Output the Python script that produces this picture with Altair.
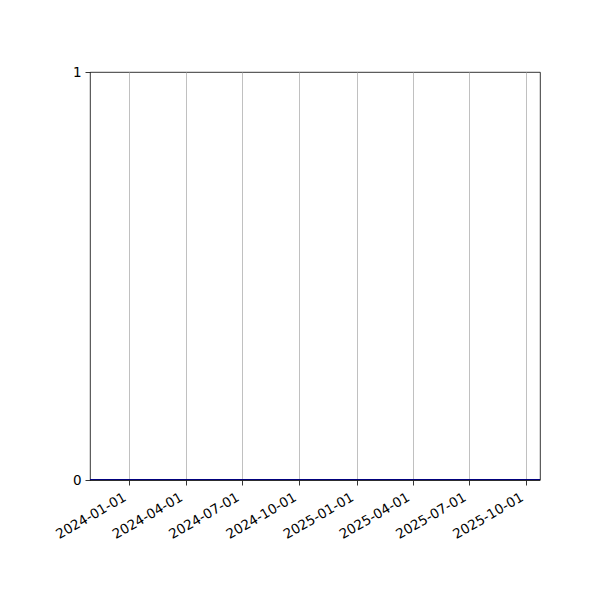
import altair as alt
import pandas as pd

# data
dates = ["2023-10-30", "2025-10-23"]
values = [0, 0]
tick_dates = ["2024-01-01", "2024-04-01", "2024-07-01", "2024-10-01",
              "2025-01-01", "2025-04-01", "2025-07-01", "2025-10-01"]
x_domain = ["2023-10-30", "2025-10-23"]
y_ticks = [0, 1]

df = pd.DataFrame({"date": pd.to_datetime(dates), "value": values})

FONT = "DejaVu Sans"

x_enc = alt.X(
    "date:T",
    scale=alt.Scale(domain=x_domain),
    axis=alt.Axis(
        values=[pd.Timestamp(d).isoformat() for d in tick_dates],
        format="%Y-%m-%d",
        labelAngle=-30,
        labelAlign="right",
        labelBaseline="top",
        labelFont=FONT,
        labelFontSize=13.5,
        labelColor="black",
        labelPadding=5,
        labelOffset=-8,
        grid=True,
        gridColor="#b0b0b0",
        gridWidth=0.8,
        tickColor="black",
        tickSize=5,
        tickWidth=0.8,
        domain=False,
        title=None,
        labelOverlap=False,
    ),
)

y_enc = alt.Y(
    "value:Q",
    scale=alt.Scale(domain=[0, 1], nice=False, zero=False),
    axis=alt.Axis(
        values=y_ticks,
        format="d",
        labelFont=FONT,
        labelFontSize=13.5,
        labelColor="black",
        labelPadding=4,
        grid=False,
        tickColor="black",
        tickSize=5,
        tickWidth=0.8,
        domain=False,
        title=None,
    ),
)

line = alt.Chart(df).mark_line(color="#0000ff", strokeWidth=2, clip=True).encode(
    x=x_enc, y=y_enc
)

spine = alt.Chart(df).mark_rule(color="black", strokeWidth=0.6).encode(
    y=alt.Y("v:Q", scale=alt.Scale(domain=[0, 1])),
).transform_calculate(v="0")

chart = alt.layer(line, spine).properties(
    width=450,
    height=408,
    autosize=alt.AutoSizeParams(type="none"),
    padding={"left": 82, "top": 64, "right": 52, "bottom": 112},
    background="white",
).configure_view(stroke="black", strokeWidth=0.8)

chart.save("out.html", embed_options={"renderer": "svg", "actions": False})
